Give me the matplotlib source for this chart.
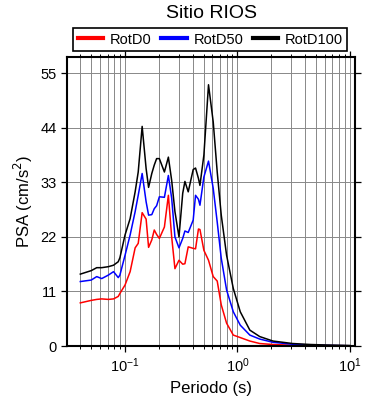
import matplotlib
matplotlib.use("Agg")
import matplotlib.pyplot as plt
import numpy as np

plt.rcParams['font.family'] = ['Liberation Sans', 'DejaVu Sans']

periods = [0.04, 0.05, 0.056, 0.062, 0.071, 0.079, 0.087, 0.09, 0.1, 0.111, 0.123, 0.131,
           0.142, 0.154, 0.162, 0.173, 0.182, 0.191, 0.202, 0.224, 0.243, 0.26, 0.278,
           0.302, 0.326, 0.341, 0.365, 0.404, 0.424, 0.45, 0.464, 0.503, 0.553, 0.609,
           0.661, 0.718, 0.801, 0.919, 1.06, 1.29, 1.58, 2.07, 3.1, 4.5, 6.2, 8.0, 10.0]

rotd100 = [14.5, 15.2, 15.8, 15.8, 16.0, 16.3, 17.0, 17.8, 22.4, 25.7, 31.1, 35.1,
           44.3, 35.8, 32.0, 34.8, 36.5, 37.8, 37.8, 35.1, 38.1, 33.4, 27.1,
           22.0, 30.8, 33.2, 31.1, 35.6, 35.9, 33.8, 32.4, 38.5, 52.7, 45.2,
           35.1, 26.4, 18.3, 11.6, 6.9, 3.2, 1.9, 1.0, 0.5, 0.3, 0.2, 0.15, 0.1]

rotd50 = [13.0, 13.3, 14.0, 13.6, 14.3, 15.0, 13.8, 14.3, 18.3, 22.4, 27.1, 30.4,
          34.8, 29.1, 26.4, 26.5, 27.7, 28.3, 30.1, 30.0, 34.4, 29.8, 22.0,
          19.8, 21.7, 23.2, 22.9, 25.4, 30.4, 29.6, 28.4, 34.1, 37.3, 31.8,
          25.0, 17.7, 11.3, 6.9, 4.2, 2.2, 1.4, 0.75, 0.35, 0.2, 0.12, 0.08, 0.05]

rotd0 = [8.7, 9.2, 9.4, 9.5, 9.4, 9.5, 10.0, 10.6, 12.3, 15.0, 19.8, 20.7,
         26.9, 25.6, 19.9, 21.4, 23.4, 22.5, 21.7, 24.0, 30.4, 22.0, 15.6,
         17.3, 16.5, 16.6, 20.0, 19.7, 19.6, 23.6, 23.5, 19.3, 17.3, 14.0,
         13.1, 8.3, 4.6, 2.2, 1.7, 1.0, 0.5, 0.3, 0.15, 0.1, 0.08, 0.06, 0.05]

series_names = ["RotD0", "RotD50", "RotD100"]
series_colors = ["#ff0000", "#0000ff", "#000000"]
yticks = [0, 11, 22, 33, 44, 55]

fig = plt.figure(figsize=(3.9, 4.0), dpi=100)
ax = fig.add_axes([0.172, 0.135, 0.738, 0.7225])

for vals, name, col in zip([rotd0, rotd50, rotd100], series_names, series_colors):
    ax.plot(periods, vals, color=col, lw=1.1, label=name)

ax.set_xscale('log')
ax.set_xlim(0.0305, 11.1)
ax.set_ylim(0, 58.3)
ax.set_yticks(yticks)
ax.grid(True, which='major', axis='both', color='#888888', lw=0.7)
ax.grid(True, which='minor', axis='x', color='#888888', lw=0.7)
ax.set_axisbelow(True)

ax.tick_params(which='both', direction='out', top=True, right=True, labelsize=10.5)
ax.tick_params(which='major', length=4, width=0.9)
ax.tick_params(which='minor', length=2.5, width=0.7)
for s in ax.spines.values():
    s.set_linewidth(1.5)

ax.set_xlabel("Periodo (s)", fontsize=12)
ax.set_ylabel("PSA (cm/s$^2$)", fontsize=12)
fig.text(0.543, 0.966, "Sitio RIOS", ha='center', va='center', fontsize=14)

leg_handles = [plt.Line2D([], [], color=c, lw=3) for c in series_colors]
leg = ax.legend(leg_handles, series_names, loc='lower left', bbox_to_anchor=(0.022, 1.021, 0.952, 0.076),
                mode='expand', ncol=3, fancybox=False, edgecolor='black', framealpha=1,
                fontsize=10.5, borderpad=0.3, handlelength=1.75, handletextpad=0.45, columnspacing=0.8,
                borderaxespad=0)
leg.get_frame().set_linewidth(1.2)

fig.savefig("out.png", dpi=100)
